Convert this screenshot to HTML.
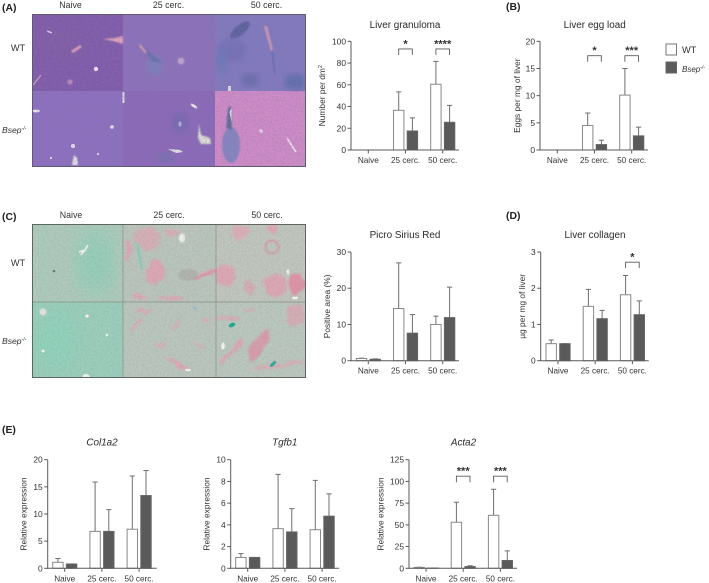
<!DOCTYPE html>
<html>
<head>
<meta charset="utf-8">
<title>Liver pathology figure</title>
<style>
html,body{margin:0;padding:0;background:#fff;}
#fig{position:relative;width:709px;height:583px;overflow:hidden;background:#fff;}
svg{position:absolute;left:0;top:0;filter:blur(0.3px);}
text{font-family:"Liberation Sans",sans-serif;fill:#333;}
.pl{font-size:10.4px;font-weight:bold;fill:#222;}
.hd{font-size:8.8px;text-anchor:middle;}
.tt{font-size:9.9px;text-anchor:middle;fill:#2a2a2a;}
.rw{font-size:9.2px;text-anchor:middle;}
.it{font-style:italic;}
</style>
</head>
<body>
<div id="fig">
<svg width="709" height="583" viewBox="0 0 709 583">
<defs>
<filter id="grain" x="0" y="0" width="100%" height="100%">
<feTurbulence type="fractalNoise" baseFrequency="0.55" numOctaves="2" seed="4"/>
<feColorMatrix values="0 0 0 0 0.25  0 0 0 0 0.2  0 0 0 0 0.35  0.9 0 0 0 -0.34"/>
</filter>
<filter id="b1"><feGaussianBlur stdDeviation="0.8"/></filter>
<filter id="b3"><feGaussianBlur stdDeviation="3"/></filter>
<filter id="b8"><feGaussianBlur stdDeviation="9"/></filter>
<filter id="org" x="-5%" y="-5%" width="110%" height="110%">
<feTurbulence type="fractalNoise" baseFrequency="0.09" numOctaves="3" seed="7" result="n"/>
<feDisplacementMap in="SourceGraphic" in2="n" scale="9" xChannelSelector="R" yChannelSelector="G"/>
<feGaussianBlur stdDeviation="1"/>
</filter>
<clipPath id="clipA"><rect x="32" y="14" width="274" height="153"/></clipPath>
<clipPath id="clipC"><rect x="32" y="224" width="274" height="154"/></clipPath>
</defs>

<g clip-path="url(#clipA)">
<rect x="32" y="14" width="91" height="77" fill="#7f5aab"/>
<rect x="123" y="14" width="92" height="77" fill="#8b70bb"/>
<rect x="215" y="14" width="91" height="77" fill="#8079bf"/>
<rect x="32" y="91" width="91" height="76" fill="#8c6ec0"/>
<rect x="123" y="91" width="92" height="76" fill="#8a68b9"/>
<rect x="215" y="91" width="91" height="76" fill="#d08bc8"/>
<ellipse cx="60" cy="40" rx="26" ry="22" fill="#85609f" opacity=".3" filter="url(#b8)"/>
<ellipse cx="155" cy="66" rx="9" ry="10" fill="#7a80bb" opacity=".85" filter="url(#b3)"/>
<path d="M142 45 L150 52 L163 63 L152 62 Z" fill="#6a70ad" filter="url(#b1)"/>
<ellipse cx="240" cy="30" rx="12" ry="5" transform="rotate(-40 240 30)" fill="#565c9a" opacity=".85" filter="url(#b1)"/>
<ellipse cx="232" cy="50" rx="14" ry="12" fill="#6f6db5" opacity=".7" filter="url(#b3)"/>
<ellipse cx="295" cy="82" rx="11" ry="8" fill="#5a6cab" opacity=".85" filter="url(#b3)"/>
<ellipse cx="250" cy="80" rx="9" ry="7" fill="#6268a8" opacity=".7" filter="url(#b3)"/>
<ellipse cx="222" cy="62" rx="6" ry="14" fill="#6a78b8" opacity=".7" filter="url(#b3)"/>
<path d="M264 26 L267 26 L273 50 L271 51 Z" fill="#d89aae" filter="url(#b1)"/>
<path d="M272 50 L275 75" stroke="#6068a4" stroke-width="1.2" fill="none" filter="url(#b1)"/>
<path d="M71 51 L80 45 L82 47 L73 53 Z" fill="#e3a0bc" filter="url(#b1)"/>
<path d="M103 39 L115 38 L123 36 L123 44 L113 41 Z" fill="#e0a4bc" filter="url(#b1)"/>
<path d="M140 44 L147 52 L145 53 L139 46 Z" fill="#d99bb4" filter="url(#b1)"/>
<circle cx="96" cy="69" r="2.2" fill="#f3e9f3"/>
<circle cx="70" cy="82" r="2.6" fill="#bb8dbb" filter="url(#b1)"/>
<circle cx="181" cy="61" r="3.4" fill="#c2a8cf" filter="url(#b1)"/>
<rect x="47" y="31" width="5" height="1.6" fill="#dccdea" transform="rotate(20 49 32)"/>
<path d="M33 85 L41 75" stroke="#c8a6c8" stroke-width="1.2"/>
<rect x="228" y="86" width="3" height="5" fill="#ddd"/>
<rect x="122.5" y="92" width="2" height="11" fill="#dcdce6"/>
<ellipse cx="36" cy="111" rx="4" ry="1.4" fill="#f2ecf3"/>
<circle cx="112" cy="127" r="1.8" fill="#f2ecf3"/>
<circle cx="73" cy="146" r="2" fill="#f2ecf3"/>
<path d="M72 165 L74 155 L77 158 L78 165 Z" fill="#e8e8ec" filter="url(#b1)"/>
<circle cx="51" cy="158" r="1.1" fill="#eee"/>
<circle cx="98" cy="154" r="1.1" fill="#eee"/>
<ellipse cx="180" cy="123" rx="9" ry="10" fill="#7468b0" opacity=".9" filter="url(#b3)"/>
<ellipse cx="180" cy="124" rx="1.6" ry="2.6" fill="#b9a8d6"/>
<ellipse cx="165" cy="158" rx="10" ry="5" fill="#7a6eb2" filter="url(#b3)"/>
<path d="M199 124 L201 135 L210 138 L211 144 L201 144 L198 138 Z" fill="#dfe0d6" filter="url(#b1)"/>
<ellipse cx="194" cy="106" rx="4" ry="1.4" transform="rotate(35 194 106)" fill="#eee4e8"/>
<path d="M168 149 L180 150 L183 152 L176 153 Z" fill="#eee8e4"/>
<ellipse cx="231" cy="145" rx="9" ry="18" fill="#8584c0" filter="url(#b1)"/>
<path d="M228 108 L231 106 L232 130 L226 128 Z" fill="#646a98" filter="url(#b1)"/>
<path d="M229.5 112 L231.5 108 L231.5 122 Z" fill="#e8e8ee"/>
<path d="M287 138 L292 146 L296 152" stroke="#efe6f0" stroke-width="1.6" fill="none"/>
<circle cx="261" cy="131" r="1.8" fill="#e4d8ea"/>
<rect x="32" y="14" width="274" height="153" filter="url(#grain)"/>
<rect x="32.5" y="14.5" width="273" height="152" fill="none" stroke="#5e5a70" stroke-width="1"/>
</g>

<g clip-path="url(#clipC)">
<rect x="32" y="224" width="91" height="78" fill="#aecbbb"/>
<rect x="123" y="224" width="93" height="78" fill="#bac6bb"/>
<rect x="216" y="224" width="90" height="78" fill="#c0c7bc"/>
<rect x="32" y="302" width="91" height="76" fill="#9bcfba"/>
<rect x="123" y="302" width="93" height="76" fill="#bac7bc"/>
<rect x="216" y="302" width="90" height="76" fill="#bac8bd"/>
<ellipse cx="95" cy="262" rx="20" ry="32" fill="#8fd0b8" opacity=".8" filter="url(#b8)"/>
<ellipse cx="55" cy="340" rx="24" ry="30" fill="#8ed4ba" opacity=".8" filter="url(#b8)"/>
<g filter="url(#org)" fill="#e2a3b2" opacity=".85">
<ellipse cx="148" cy="238" rx="13" ry="12" fill="#d9adb3"/>
<ellipse cx="155" cy="273" rx="9" ry="13"/>
<ellipse cx="128" cy="250" rx="3" ry="10"/>
<ellipse cx="172" cy="232" rx="7" ry="5" fill="#dcacb2"/>
<ellipse cx="170" cy="298" rx="13" ry="2.5"/>
<ellipse cx="139" cy="296" rx="8" ry="3"/>
<ellipse cx="207" cy="274" rx="13" ry="2" transform="rotate(-14 207 274)"/>
<ellipse cx="240" cy="232" rx="9" ry="7" fill="#dfabb4"/>
<ellipse cx="272" cy="230" rx="5" ry="4"/>
<ellipse cx="226" cy="275" rx="10" ry="11"/>
<ellipse cx="276" cy="285" rx="11" ry="13"/>
<ellipse cx="297" cy="284" rx="8" ry="9" fill="#e58aa2"/>
<ellipse cx="250" cy="288" rx="6" ry="8" fill="#d8aab2"/>
<ellipse cx="258" cy="346" rx="7" ry="19" transform="rotate(30 258 346)" fill="#dc96a8"/>
<ellipse cx="295" cy="315" rx="10" ry="11" fill="#d8aab2"/>
<ellipse cx="228" cy="318" rx="11" ry="2.5" fill="#dcaab2"/>
<ellipse cx="280" cy="365" rx="28" ry="2.5" transform="rotate(-8 280 365)" fill="#dcaab2"/>
<ellipse cx="232" cy="352" rx="18" ry="2.2" transform="rotate(-45 232 352)"/>
<ellipse cx="137" cy="325" rx="9" ry="2" transform="rotate(-40 137 325)"/>
<ellipse cx="145" cy="312" rx="8" ry="2"/>
<ellipse cx="178" cy="365" rx="13" ry="2.5" transform="rotate(25 178 365)"/>
<ellipse cx="175" cy="326" rx="7" ry="2" transform="rotate(-40 175 326)" fill="#d9aeb4"/>
<ellipse cx="198" cy="345" rx="8" ry="1.6" transform="rotate(30 198 345)" fill="#d9aeb4"/>
<ellipse cx="206" cy="320" rx="5" ry="1.6" fill="#d9aeb4"/>
<ellipse cx="160" cy="345" rx="6" ry="1.5" fill="#d9aeb4"/>
<ellipse cx="250" cy="310" rx="7" ry="1.6" fill="#d9aeb4"/>
</g>
<ellipse cx="272" cy="247" rx="6.5" ry="6.5" fill="none" stroke="#cfa2ac" stroke-width="2.2" filter="url(#b1)"/>
<ellipse cx="188" cy="275" rx="10" ry="6" fill="#afb3ab" opacity=".9" filter="url(#b1)"/>
<path d="M195 279 L216 270" stroke="#d993a8" stroke-width="2.2" filter="url(#b1)"/>
<path d="M137 243 L142 270" stroke="#6dd0bb" stroke-width="1.6" filter="url(#b1)"/>
<ellipse cx="232" cy="325" rx="3.5" ry="2" transform="rotate(-25 232 325)" fill="#23ab90"/>
<ellipse cx="273" cy="364" rx="4" ry="1.6" transform="rotate(-45 273 364)" fill="#28ad96"/>
<path d="M193 307 L197 310" stroke="#7cbfc4" stroke-width="1.6" filter="url(#b1)"/>
<path d="M81 255 L85 250 L88 245 M85 250 L79 252" stroke="#f1f1ee" stroke-width="1.8" fill="none"/>
<ellipse cx="43" cy="312" rx="3.6" ry="3.6" fill="#e8e4e2" filter="url(#b1)"/>
<ellipse cx="182" cy="238" rx="3" ry="4.5" fill="#f3f3ee" filter="url(#b1)"/>
<ellipse cx="223" cy="346" rx="1.8" ry="3.6" fill="#f3f3ee"/>
<circle cx="87" cy="316" r="1.8" fill="#f3f3ee"/>
<circle cx="107" cy="335" r="1.3" fill="#f3f3ee"/>
<circle cx="43" cy="351" r="1.5" fill="#f3f3ee"/>
<ellipse cx="86" cy="376" rx="3.5" ry="2" fill="#f3f3ee"/>
<circle cx="54" cy="271" r="1.3" fill="#6b7c72"/>
<ellipse cx="288" cy="272" rx="1.4" ry="3" fill="#f5f5ef"/>
<ellipse cx="295" cy="298" rx="3" ry="1.4" fill="#f5f5ef"/>
<ellipse cx="188" cy="370" rx="3" ry="1.2" fill="#f5f5ef"/>
<rect x="32" y="224" width="274" height="154" filter="url(#grain)" opacity=".5"/>
<path d="M32 302 H306 M123 224 V378 M216 224 V378" stroke="#858f86" stroke-width=".7" fill="none"/>
<rect x="32.5" y="224.5" width="273" height="153" fill="none" stroke="#5f6660" stroke-width="1"/>
</g>

<g>
<text class="pl" x="2" y="11">(A)</text>
<text class="pl" x="506" y="10">(B)</text>
<text class="pl" x="2" y="220">(C)</text>
<text class="pl" x="506" y="219">(D)</text>
<text class="pl" x="2" y="433">(E)</text>
</g>

<g>
<text class="hd" x="70.5" y="8">Naive</text>
<text class="hd" x="168.5" y="8">25 cerc.</text>
<text class="hd" x="266.5" y="8">50 cerc.</text>
<text class="rw" x="18" y="51">WT</text>
<text x="2" y="133" font-size="8.6" class="it">Bsep<tspan font-size="5" dy="-3">-/-</tspan></text>
<text class="hd" x="71" y="218">Naive</text>
<text class="hd" x="169" y="218">25 cerc.</text>
<text class="hd" x="267" y="218">50 cerc.</text>
<text class="rw" x="18" y="266">WT</text>
<text x="2" y="344" font-size="8.6" class="it">Bsep<tspan font-size="5" dy="-3">-/-</tspan></text>
</g>

<g>
<rect x="666" y="44" width="10.5" height="11" fill="#fff" stroke="#777" stroke-width="1"/>
<text x="682" y="53" font-size="9.2">WT</text>
<rect x="666" y="62" width="10.5" height="11" fill="#5c5c5c" stroke="#666" stroke-width="1"/>
<text x="682" y="72" font-size="8" class="it">Bsep<tspan font-size="5" dy="-3">-/-</tspan></text>
</g>

<g id="charts"></g>
</svg>
</div>

<script>
var categories = ["Naive", "25 cerc.", "50 cerc."];

var granulomaWT = [0, 36.5, 60.5];
var granulomaWTUpper = [0, 53.5, 81.5];
var granulomaKO = [0, 17.5, 25.5];
var granulomaKOUpper = [0, 29.5, 41];
var granulomaTicks = [0, 20, 40, 60, 80, 100];

var eggWT = [0, 4.5, 10.1];
var eggWTUpper = [0, 6.8, 15];
var eggKO = [0, 1, 2.6];
var eggKOUpper = [0, 1.8, 4.2];
var eggTicks = [0, 5, 10, 15, 20];

var siriusWT = [0.6, 14.4, 10];
var siriusWTUpper = [0.7, 27, 12.3];
var siriusKO = [0.4, 7.6, 11.9];
var siriusKOUpper = [0.5, 12.7, 20.3];
var siriusTicks = [0, 10, 20, 30];

var collagenWT = [0.47, 1.5, 1.82];
var collagenWTUpper = [0.57, 1.97, 2.35];
var collagenKO = [0.47, 1.16, 1.27];
var collagenKOUpper = [0.47, 1.39, 1.65];
var collagenTicks = [0, 1, 2, 3];

var col1a2WT = [1.1, 6.8, 7.2];
var col1a2WTUpper = [1.8, 15.9, 17];
var col1a2KO = [0.8, 6.8, 13.4];
var col1a2KOUpper = [0.8, 10.8, 18];
var col1a2Ticks = [0, 5, 10, 15, 20];

var tgfb1WT = [1, 3.65, 3.55];
var tgfb1WTUpper = [1.35, 8.65, 8.1];
var tgfb1KO = [1, 3.35, 4.8];
var tgfb1KOUpper = [1, 5.5, 6.85];
var tgfb1Ticks = [0, 2, 4, 6, 8, 10];

var acta2WT = [1, 53, 61];
var acta2WTUpper = [1.2, 76, 91];
var acta2KO = [0.3, 2, 9];
var acta2KOUpper = [0.3, 3, 20];
var acta2Ticks = [0, 25, 50, 75, 100, 125];

var granulomaSig = [null, "*", "****"];
var eggSig = [null, "*", "***"];
var collagenSig = [null, null, "*"];
var acta2Sig = [null, "***", "***"];
var noSig = [null, null, null];

var NS = "http://www.w3.org/2000/svg";
var root = document.getElementById("charts");

function make(parent, tag, attrs) {
  var el = document.createElementNS(NS, tag);
  for (var k in attrs) { el.setAttribute(k, attrs[k]); }
  parent.appendChild(el);
  return el;
}

function drawChart(c) {
  var g = make(root, "g", {});
  
  
  var max = c.ticks[c.ticks.length - 1];
  function yScale(v) { return c.y0 - (v / max) * c.plotH; }
  function xScale(i) { return c.x0 + c.first + i * c.step; }
  var axisCol = "#5a5a5a";

  var title = make(g, "text", { x: c.titleX, y: c.titleY, "class": "tt" + (c.italic ? " it" : "") });
  title.textContent = c.title;
  
  

  var yTitleX = c.x0 - c.yTitleOff;
  var yTitleY = c.y0 - c.plotH / 2 + c.yTitleShift;
  var yt = make(g, "text", { x: yTitleX, y: yTitleY, "font-size": 8.4, "text-anchor": "middle",
    transform: "rotate(-90 " + yTitleX + " " + yTitleY + ")" });
  yt.textContent = c.yLabel;
  
  
  if (c.sup) {
    var sp = make(yt, "tspan", { "font-size": 5.5, dy: -3 });
    sp.textContent = c.sup;
  }

  c.wt.forEach(function (v, i) {
    var cx = xScale(i);
    var wtX = cx - 12, koX = cx + 1.7, w = 10.4;
    var wtMid = wtX + w / 2, koMid = koX + w / 2;

    var e1 = make(g, "path", { d: "M" + wtMid + " " + yScale(v) + " V" + yScale(c.wtUp[i]) +
      " M" + (wtMid - 2.6) + " " + yScale(c.wtUp[i]) + " H" + (wtMid + 2.6), stroke: "#6e6e6e", "stroke-width": 1, fill: "none" });
    
    
    var e2 = make(g, "path", { d: "M" + koMid + " " + yScale(c.ko[i]) + " V" + yScale(c.koUp[i]) +
      " M" + (koMid - 2.6) + " " + yScale(c.koUp[i]) + " H" + (koMid + 2.6), stroke: "#6e6e6e", "stroke-width": 1, fill: "none" });
    
    

    var b1 = make(g, "rect", { x: wtX, y: yScale(v), width: w, height: Math.max(0, c.y0 - yScale(v)),
      fill: "#fff", stroke: "#888", "stroke-width": 1 });
    
    
    var b2 = make(g, "rect", { x: koX, y: yScale(c.ko[i]), width: w, height: Math.max(0, c.y0 - yScale(c.ko[i])),
      fill: "#5a5a5a", stroke: "#666", "stroke-width": 1 });
    
    

    if (c.sig[i]) {
      var top = yScale(c.sigLevel);
      var br = make(g, "path", { d: "M" + (cx - 6.8) + " " + (top + 6) + " V" + top + " H" + (cx + 6.8) + " V" + (top + 6),
        stroke: "#5a5a5a", "stroke-width": 0.9, fill: "none" });
      
      
      var st = make(g, "text", { x: cx, y: top - 1.6, "font-size": 11, "font-weight": "bold", "text-anchor": "middle" });
      st.textContent = c.sig[i];
      
      
    }
  });

  var yAxis = make(g, "line", { x1: c.x0, x2: c.x0, y1: c.y0 + 0.5, y2: yScale(max), stroke: axisCol, "stroke-width": 1 });
  
  
  var xAxis = make(g, "line", { x1: c.x0, x2: c.x0 + c.axisLen, y1: c.y0, y2: c.y0, stroke: axisCol, "stroke-width": 1 });
  
  

  c.ticks.forEach(function (t) {
    var yy = yScale(t);
    var tk = make(g, "line", { x1: c.x0 - 3.5, x2: c.x0, y1: yy, y2: yy, stroke: axisCol, "stroke-width": 1 });
    
    
    var lb = make(g, "text", { x: c.x0 - 5, y: yy + 3, "font-size": 8.4, "text-anchor": "end" });
    lb.textContent = t;
    
    
  });

  categories.forEach(function (name, i) {
    var xx = xScale(i);
    var tk = make(g, "line", { x1: xx, x2: xx, y1: c.y0, y2: c.y0 + 3.5, stroke: axisCol, "stroke-width": 1 });
    
    
    var lb = make(g, "text", { x: xx, y: c.y0 + 13, "font-size": 8.2, "text-anchor": "middle" });
    lb.textContent = name;
    
    
  });
}

drawChart({ id: "liver-granuloma", title: "Liver granuloma", titleX: 405, titleY: 28, yLabel: "Number per dm", sup: "2",
  x0: 351, y0: 150, plotH: 108.7, first: 17.3, step: 37.2, axisLen: 108, ticks: granulomaTicks,
  wt: granulomaWT, wtUp: granulomaWTUpper, ko: granulomaKO, koUp: granulomaKOUpper,
  sig: granulomaSig, sigLevel: 93, yTitleOff: 26, yTitleShift: 0 });

drawChart({ id: "liver-egg-load", title: "Liver egg load", titleX: 594.7, titleY: 28, yLabel: "Eggs per mg of liver",
  x0: 540, y0: 150, plotH: 108.7, first: 17.3, step: 37.2, axisLen: 108, ticks: eggTicks,
  wt: eggWT, wtUp: eggWTUpper, ko: eggKO, koUp: eggKOUpper,
  sig: eggSig, sigLevel: 17.35, yTitleOff: 20, yTitleShift: 0 });

drawChart({ id: "picro-sirius-red", title: "Picro Sirius Red", titleX: 405, titleY: 238, yLabel: "Positive area (%)",
  x0: 351, y0: 360.7, plotH: 108.7, first: 17.3, step: 37.2, axisLen: 108, ticks: siriusTicks,
  wt: siriusWT, wtUp: siriusWTUpper, ko: siriusKO, koUp: siriusKOUpper,
  sig: noSig, sigLevel: 0, yTitleOff: 21, yTitleShift: 0 });

drawChart({ id: "liver-collagen", title: "Liver collagen", titleX: 595, titleY: 238, yLabel: "\u00b5g per mg of liver",
  x0: 540.7, y0: 360.7, plotH: 108.7, first: 17.3, step: 37.2, axisLen: 108, ticks: collagenTicks,
  wt: collagenWT, wtUp: collagenWTUpper, ko: collagenKO, koUp: collagenKOUpper,
  sig: collagenSig, sigLevel: 2.72, yTitleOff: 15.5, yTitleShift: 0 });

drawChart({ id: "col1a2", title: "Col1a2", italic: true, titleX: 102, titleY: 445.7, yLabel: "Relative expression",
  x0: 47.7, y0: 568.3, plotH: 108.6, first: 17, step: 37.2, axisLen: 109, ticks: col1a2Ticks,
  wt: col1a2WT, wtUp: col1a2WTUpper, ko: col1a2KO, koUp: col1a2KOUpper,
  sig: noSig, sigLevel: 0, yTitleOff: 21, yTitleShift: 0 });

drawChart({ id: "tgfb1", title: "Tgfb1", italic: true, titleX: 284.7, titleY: 445.7, yLabel: "Relative expression",
  x0: 230.7, y0: 568.3, plotH: 108.6, first: 17, step: 37.2, axisLen: 108.5, ticks: tgfb1Ticks,
  wt: tgfb1WT, wtUp: tgfb1WTUpper, ko: tgfb1KO, koUp: tgfb1KOUpper,
  sig: noSig, sigLevel: 0, yTitleOff: 21, yTitleShift: 0 });

drawChart({ id: "acta2", title: "Acta2", italic: true, titleX: 463.5, titleY: 445.7, yLabel: "Relative expression",
  x0: 409, y0: 568.3, plotH: 108.6, first: 17, step: 37.2, axisLen: 108, ticks: acta2Ticks,
  wt: acta2WT, wtUp: acta2WTUpper, ko: acta2KO, koUp: acta2KOUpper,
  sig: acta2Sig, sigLevel: 106, yTitleOff: 25.5, yTitleShift: 0 });
</script>
</body>
</html>
